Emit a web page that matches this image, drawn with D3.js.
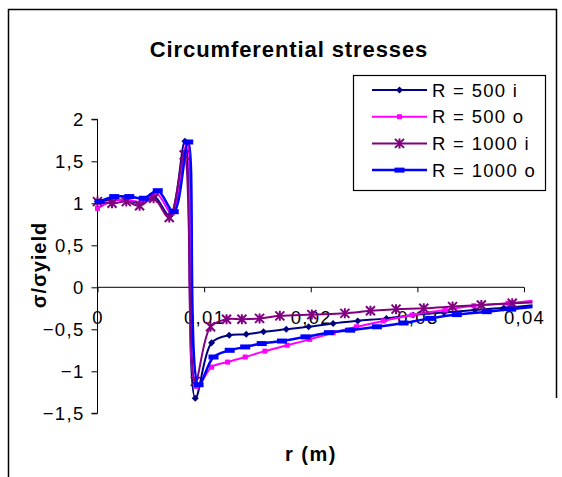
<!DOCTYPE html>
<html>
<head>
<meta charset="utf-8">
<script src="https://cdn.jsdelivr.net/npm/d3@7"></script>
<style>
  html, body { margin: 0; padding: 0; background: #fff; }
  svg { display: block; }
  text { font-family: Arial, "Liberation Sans", sans-serif; fill: #000; }
</style>
</head>
<body>
<svg id="chart" width="562" height="477"></svg>
<script>
// Radial position r (m) and normalised circumferential stress σ/σyield for each case
const r500i = [0, 0.00135, 0.0027, 0.004, 0.0053, 0.0068, 0.0082, 0.00917, 0.0107, 0.01235, 0.01395, 0.01557, 0.0177, 0.0198, 0.0221, 0.0244, 0.0271, 0.0296, 0.0325, 0.0354, 0.0381, 0.0408];
const v500i = [1.02, 1.04, 1.04, 1.0, 1.08, 0.85, 1.74, -1.32, -0.66, -0.57, -0.56, -0.53, -0.50, -0.47, -0.43, -0.40, -0.37, -0.33, -0.30, -0.27, -0.245, -0.215];

const r500o = [0, 0.0015, 0.0028, 0.0042, 0.0055, 0.0070, 0.0084, 0.0093, 0.0107, 0.0122, 0.01385, 0.0157, 0.0178, 0.0199, 0.0221, 0.0243, 0.0268, 0.0295, 0.0326, 0.0353, 0.0385, 0.0408];
const v500o = [0.94, 1.03, 1.04, 1.02, 1.12, 0.88, 1.72, -1.18, -0.95, -0.89, -0.83, -0.76, -0.69, -0.62, -0.54, -0.47, -0.40, -0.33, -0.27, -0.22, -0.19, -0.16];

const r1000i = [0, 0.00136, 0.0027, 0.00395, 0.00526, 0.00673, 0.00813, 0.00917, 0.0106, 0.0121, 0.01354, 0.0152, 0.0171, 0.0201, 0.0232, 0.0256, 0.0280, 0.0306, 0.0333, 0.0360, 0.0389, 0.0408];
const v1000i = [1.02, 1.0, 1.02, 0.97, 1.06, 0.83, 1.575, -1.12, -0.47, -0.38, -0.38, -0.37, -0.34, -0.325, -0.31, -0.28, -0.26, -0.25, -0.23, -0.21, -0.19, -0.18];

const r1000o = [0.0002, 0.00157, 0.00298, 0.00434, 0.00565, 0.00715, 0.00851, 0.00948, 0.01088, 0.0124, 0.01385, 0.0154, 0.0173, 0.0195, 0.0217, 0.0237, 0.0262, 0.0287, 0.0312, 0.0337, 0.0365, 0.0388, 0.0408];
const v1000o = [1.02, 1.08, 1.08, 1.06, 1.15, 0.90, 1.73, -1.16, -0.83, -0.75, -0.71, -0.67, -0.64, -0.59, -0.54, -0.51, -0.47, -0.425, -0.37, -0.325, -0.29, -0.26, -0.235];

const seriesNames = ["R = 500 i", "R = 500 o", "R = 1000 i", "R = 1000 o"];
const xTicks = [0, 0.01, 0.02, 0.03, 0.04];
const yTicks = [-1.5, -1, -0.5, 0, 0.5, 1, 1.5, 2];

const series = [
  { name: seriesNames[0], r: r500i,  v: v500i,  color: "#000080", marker: "diamond", width: 2 },
  { name: seriesNames[1], r: r500o,  v: v500o,  color: "#FF00FF", marker: "square",  width: 2 },
  { name: seriesNames[2], r: r1000i, v: v1000i, color: "#800080", marker: "star",    width: 2 },
  { name: seriesNames[3], r: r1000o, v: v1000o, color: "#0000FF", marker: "dash",    width: 2.5 }
];

const FONT = "Arial, 'Liberation Sans', sans-serif";
const svg = d3.select("#chart");
const fmt = d => d3.format("")(d).replace(".", ",");

// Outer chart frame
svg.append("path")
  .attr("d", "M8.5,477 V9.5 H556.5 V398")
  .attr("fill", "none").attr("stroke", "#000").attr("stroke-width", 1.5);

const x = d3.scaleLinear().domain([0, 0.04]).range([97.5, 524]);
const y = d3.scaleLinear().domain([-1.5, 2]).range([413.3, 119.3]);

// Title
svg.append("text")
  .attr("x", 289).attr("y", 57)
  .attr("text-anchor", "middle")
  .attr("font-size", 22).attr("font-weight", "bold")
  .attr("letter-spacing", 0.9)
  .text("Circumferential stresses");

// Y axis
const yAxis = svg.append("g")
  .attr("transform", `translate(${x(0)},0)`)
  .call(d3.axisLeft(y).tickValues(yTicks).tickSize(6).tickPadding(7).tickFormat(fmt));
yAxis.selectAll("text")
  .attr("font-size", 18.5).attr("letter-spacing", 1.3)
  .style("font-family", FONT);
yAxis.select(".domain").attr("d", `M-6,${y(2)}H0V${y(-1.5)}H-6`);

// X axis at σ = 0, labels sit below the line
const xAxis = svg.append("g")
  .attr("transform", `translate(0,${y(0)})`)
  .call(d3.axisBottom(x).tickValues(xTicks).tickSize(5).tickPadding(19).tickFormat(fmt));
xAxis.selectAll("text")
  .attr("font-size", 18.5).attr("letter-spacing", 1.3)
  .style("font-family", FONT);
xAxis.select(".domain").attr("d", `M${x(0)},0H${x(0.04)}`);

// Axis titles
svg.append("text")
  .attr("x", 311).attr("y", 461)
  .attr("text-anchor", "middle")
  .attr("font-size", 20).attr("font-weight", "bold")
  .attr("letter-spacing", 1.5)
  .text("r (m)");

svg.append("text")
  .attr("transform", "translate(46,265) rotate(-90)")
  .attr("text-anchor", "middle")
  .attr("font-size", 20).attr("font-weight", "bold")
  .attr("letter-spacing", 1)
  .text("σ/σyield");

// Smoothed series lines
const line = d3.line()
  .x(d => x(d[0])).y(d => y(d[1]))
  .curve(d3.curveCatmullRom.alpha(0.5));

function drawMarker(g, type, color) {
  if (type === "diamond") {
    g.append("path").attr("d", "M0,-3.5L3.5,0L0,3.5L-3.5,0Z").attr("fill", color);
  } else if (type === "square") {
    g.append("rect").attr("x", -2.5).attr("y", -2.5).attr("width", 5).attr("height", 5).attr("fill", color);
  } else if (type === "star") {
    g.append("path").attr("d", "M-4.5,-4.5L4.5,4.5M-4.5,4.5L4.5,-4.5M0,-5V5")
      .attr("stroke", color).attr("stroke-width", 2).attr("fill", "none");
  } else if (type === "dash") {
    g.append("rect").attr("x", -5).attr("y", -2.5).attr("width", 10).attr("height", 5).attr("fill", color);
  }
}

const plot = svg.append("g");
series.forEach(s => {
  const pts = s.r.map((r, i) => [r, s.v[i]]);
  plot.append("path")
    .datum(pts)
    .attr("d", line)
    .attr("fill", "none")
    .attr("stroke", s.color)
    .attr("stroke-width", s.width)
    .attr("stroke-linejoin", "round");
  pts.filter(p => p[0] <= 0.04).forEach(p => {
    const g = plot.append("g").attr("transform", `translate(${x(p[0])},${y(p[1])})`);
    drawMarker(g, s.marker, s.color);
  });
});

// Legend
const legend = svg.append("g");
legend.append("rect")
  .attr("x", 353.5).attr("y", 75.5).attr("width", 192).attr("height", 115)
  .attr("fill", "#fff").attr("stroke", "#000").attr("stroke-width", 1.2);
series.forEach((s, i) => {
  const yy = 90 + i * 26.7;
  legend.append("line")
    .attr("x1", 372).attr("x2", 427).attr("y1", yy).attr("y2", yy)
    .attr("stroke", s.color).attr("stroke-width", s.width);
  const g = legend.append("g").attr("transform", `translate(399.5,${yy})`);
  drawMarker(g, s.marker, s.color);
  legend.append("text")
    .attr("x", 432).attr("y", yy + 6.5)
    .attr("font-size", 18.5).attr("letter-spacing", 1.3)
    .text(s.name);
});
</script>
</body>
</html>
